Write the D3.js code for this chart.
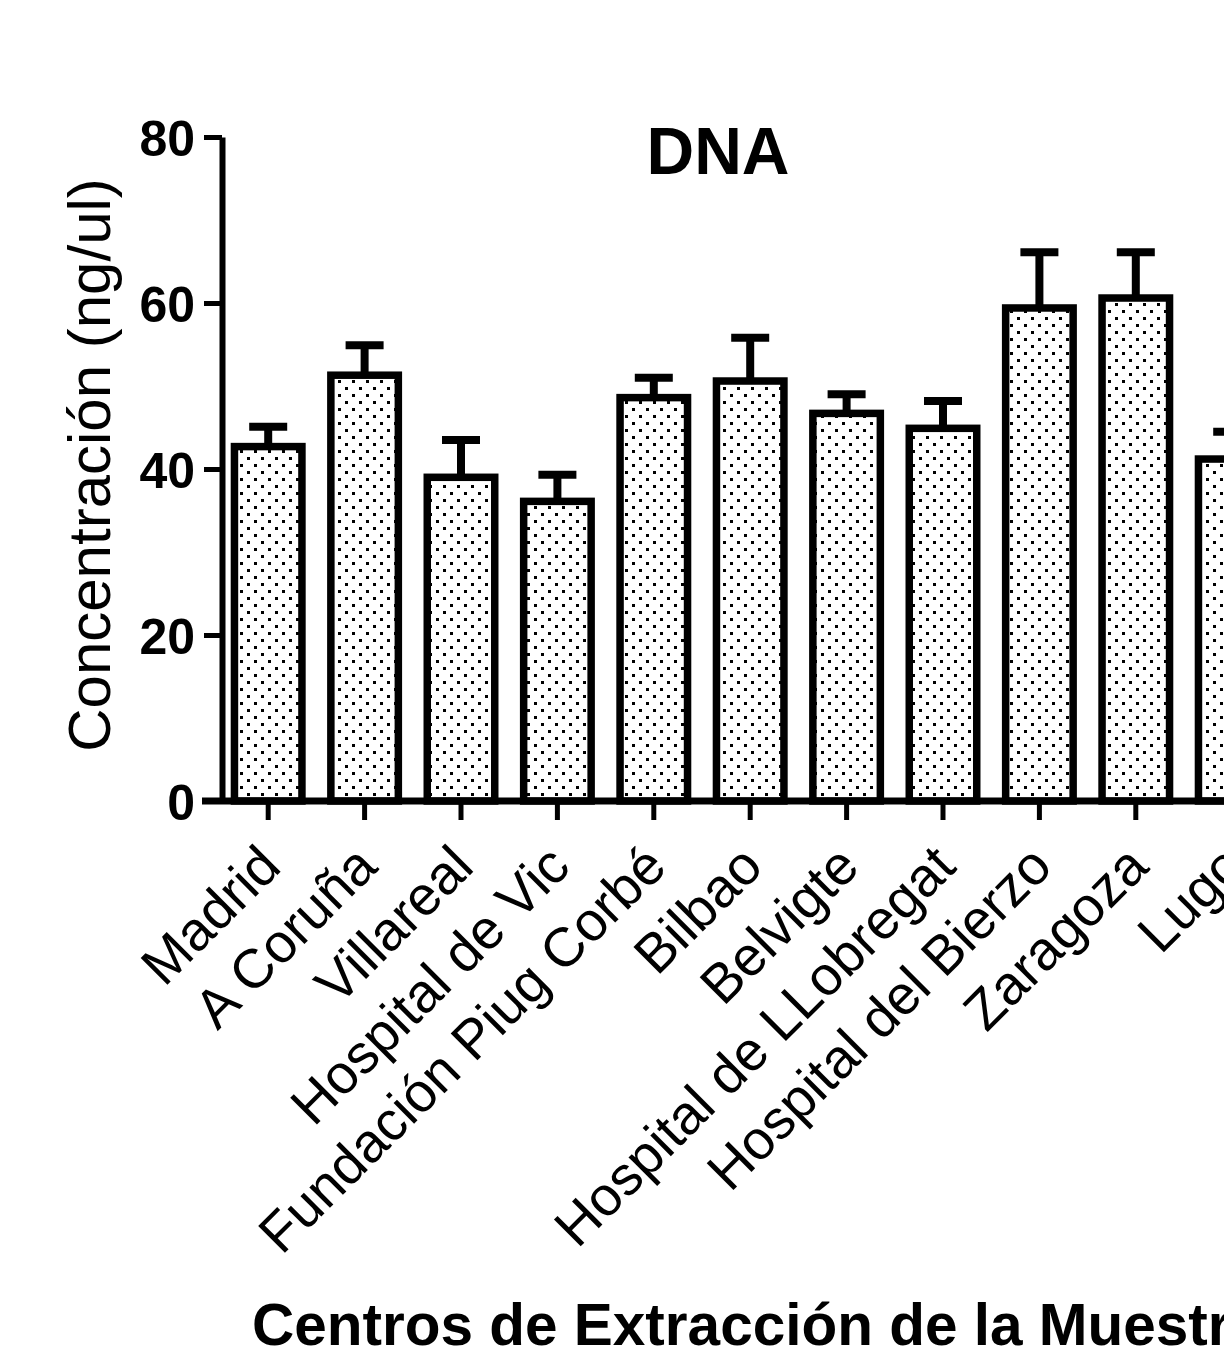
<!DOCTYPE html>
<html>
<head>
<meta charset="utf-8">
<script src="https://cdn.jsdelivr.net/npm/d3@7"></script>
<style>
    body { margin: 0; background: #fff; }
    svg { display: block; }
    text { font-family: "Liberation Sans", Arial, sans-serif; fill: #000; }
</style>
</head>
<body>
<div id="canvas"></div>
<script>
"use strict"

// Centros de extraccion (categorias del eje X)
let centros = ["Madrid", "A Coruña", "Villareal", "Hospital de Vic", "Fundación Piug Corbé",
    "Bilbao", "Belvigte", "Hospital de LLobregat", "Hospital del Bierzo", "Zaragoza", "Lugo"]

// concentracion media de DNA (ng/ul) y su error (solo hacia arriba)
let medias = [42.7, 51.3, 39.0, 36.1, 48.6, 50.6, 46.7, 44.9, 59.4, 60.6, 41.2]
let errores = [2.4, 3.6, 4.5, 3.2, 2.4, 5.2, 2.3, 3.3, 6.7, 5.5, 3.3]

let yTicks = [0, 20, 40, 60, 80]

let svgWidth = 1224
let svgHeight = 1354

let svg = d3.select("#canvas")
    .append("svg")
    .attr("width", svgWidth)
    .attr("height", svgHeight)

svg.append("rect")
    .attr("width", svgWidth)
    .attr("height", svgHeight)
    .attr("fill", "white")

// dotted fill like the original bars
let pat = svg.append("defs").append("pattern")
    .attr("id", "dots")
    .attr("patternUnits", "userSpaceOnUse")
    .attr("width", 14)
    .attr("height", 14)
pat.append("rect").attr("width", 14).attr("height", 14).attr("fill", "white")
pat.append("rect").attr("x", 2).attr("y", 2).attr("width", 3).attr("height", 3).attr("fill", "black")
pat.append("rect").attr("x", 9).attr("y", 9).attr("width", 3).attr("height", 3).attr("fill", "black")

// Scales: the plot keeps going past the right border (it is cut there)
let xScale = d3.scaleBand()
    .domain(centros)
    .range([220, 1280.4])
    .paddingInner(0.3)
    .paddingOuter(0.15)

let yScale = d3.scaleLinear()
    .domain([0, 80])
    .range([801, 137])

let data = centros.map(function (c, i) {
    return { centro: c, media: medias[i], error: errores[i] }
})

// Bars
svg.selectAll("rect.bar")
    .data(data)
    .join("rect")
    .attr("class", "bar")
    .attr("x", d => xScale(d.centro))
    .attr("y", d => yScale(d.media))
    .attr("width", xScale.bandwidth())
    .attr("height", d => yScale(0) - yScale(d.media))
    .attr("fill", "url(#dots)")
    .attr("stroke", "black")
    .attr("stroke-width", 7.5)

// Error bars (upper half only)
let cx = d => xScale(d.centro) + xScale.bandwidth() / 2

svg.selectAll("line.err")
    .data(data)
    .join("line")
    .attr("class", "err")
    .attr("x1", cx)
    .attr("x2", cx)
    .attr("y1", d => yScale(d.media))
    .attr("y2", d => yScale(d.media + d.error))
    .attr("stroke", "black")
    .attr("stroke-width", 8)

svg.selectAll("line.cap")
    .data(data)
    .join("line")
    .attr("class", "cap")
    .attr("x1", d => cx(d) - 19)
    .attr("x2", d => cx(d) + 19)
    .attr("y1", d => yScale(d.media + d.error))
    .attr("y2", d => yScale(d.media + d.error))
    .attr("stroke", "black")
    .attr("stroke-width", 8)

// Y axis
let yAxis = svg.append("g")
    .attr("transform", "translate(222,0)")
    .call(d3.axisLeft(yScale).tickValues(yTicks).tickSize(18).tickSizeOuter(0).tickPadding(9))

yAxis.select(".domain").attr("stroke", "black").attr("stroke-width", 6)
yAxis.selectAll(".tick line").attr("stroke", "black").attr("stroke-width", 5)
yAxis.selectAll(".tick text")
    .attr("font-size", "50px")
    .attr("font-weight", "bold")
    .attr("dy", "0.36em")

// X axis
let xAxis = svg.append("g")
    .attr("transform", "translate(0,801)")
    .call(d3.axisBottom(xScale).tickSize(19).tickSizeOuter(0))

xAxis.select(".domain")
    .attr("d", "M202,0H1240")
    .attr("stroke", "black")
    .attr("stroke-width", 7)
xAxis.selectAll(".tick line").attr("stroke", "black").attr("stroke-width", 5)
xAxis.selectAll(".tick text")
    .attr("x", 0)
    .attr("y", 0)
    .attr("dy", 0)
    .attr("transform", "translate(15,68) rotate(-45)")
    .attr("text-anchor", "end")
    .attr("font-size", "55px")

// Title
svg.append("text")
    .attr("x", 718)
    .attr("y", 174)
    .attr("text-anchor", "middle")
    .attr("font-size", "66px")
    .attr("font-weight", "bold")
    .text("DNA")

// Axis titles
svg.append("text")
    .attr("transform", "translate(110,465) rotate(-90)")
    .attr("text-anchor", "middle")
    .attr("font-size", "60px")
    .text("Concentración (ng/ul)")

svg.append("text")
    .attr("x", 252)
    .attr("y", 1345)
    .attr("font-size", "58.5px")
    .attr("font-weight", "bold")
    .text("Centros de Extracción de la Muestra")
</script>
</body>
</html>
